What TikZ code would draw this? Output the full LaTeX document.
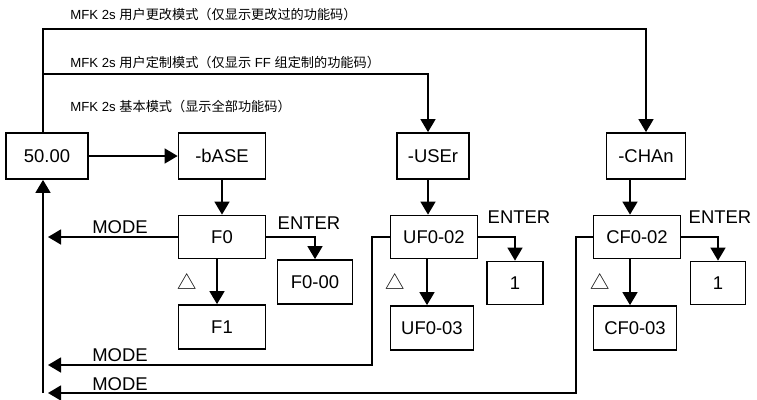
\documentclass[tikz,border=0pt]{standalone}
\usepackage{fontspec}
\setmainfont{Liberation Sans}
\newfontfamily\cjk{Noto Sans CJK SC}
\usetikzlibrary{arrows.meta}

\tikzset{
box/.style={draw=black, line width=1pt, inner sep=0pt, font=\fontsize{10.5}{12}\selectfont},
arr/.style={line width=1pt, -{Triangle[length=7.4pt,width=8.5pt]}},
lin/.style={line width=1pt},
lbl/.style={inner sep=0pt, font=\fontsize{10.5}{12}\selectfont},
tri/.style={inner sep=0pt, font=\fontsize{11}{12}\cjk},
note/.style={anchor=west, inner sep=0pt, font=\fontsize{7.5}{9}\selectfont},
}

\begin{document}
\begin{tikzpicture}[x=0.02cm,y=-0.02cm]
\useasboundingbox (0,0) rectangle (757,399);

\node[box, minimum width=1.64cm, minimum height=0.92cm] (v50) at (47,156) {50.00};
\node[box, minimum width=1.74cm, minimum height=0.92cm] (base) at (222,156) {-bASE};
\node[box, minimum width=1.74cm, minimum height=0.86cm] (f0) at (222,237) {F0};
\node[box, minimum width=1.50cm, minimum height=0.88cm] (f000) at (315,282) {F0-00};
\node[box, minimum width=1.74cm, minimum height=0.88cm] (f1) at (222,327) {F1};

\node[box, minimum width=1.44cm, minimum height=0.92cm] (user) at (433,156) {-USEr};
\node[box, minimum width=1.74cm, minimum height=0.86cm] (uf02) at (434,237) {UF0-02};
\node[box, minimum width=1.12cm, minimum height=0.86cm] (uent) at (515,283) {1};
\node[box, minimum width=1.66cm, minimum height=0.88cm] (uf03) at (432,328) {UF0-03};

\node[box, minimum width=1.58cm, minimum height=0.92cm] (chan) at (646,156) {-CHAn};
\node[box, minimum width=1.74cm, minimum height=0.86cm] (cf02) at (637,237) {CF0-02};
\node[box, minimum width=1.10cm, minimum height=0.86cm] (cent) at (718,283) {1};
\node[box, minimum width=1.66cm, minimum height=0.88cm] (cf03) at (635,328) {CF0-03};

\coordinate (rail) at (43,393);
\coordinate (topC) at (43,29);
\coordinate (topU) at (43,74);
\coordinate (modeF) at (48,237);
\coordinate (modeU) at (48,365);
\coordinate (modeC) at (48,393);

\node[note] (nC) at (70,14) {MFK 2s {\cjk 用户更改模式（仅显示更改过的功能码）}};
\node[note] (nU) at (70,62) {MFK 2s {\cjk 用户定制模式（仅显示} FF {\cjk 组定制的功能码）}};
\node[note] (nB) at (70,106) {MFK 2s {\cjk 基本模式（显示全部功能码）}};

\draw[arr] (v50) -- (base);
\draw[arr] (base) -- (f0);
\draw[arr] ([xshift=-0.1cm]f0.south) -- ([xshift=-0.1cm]f0.south |- f1.north);
\draw[arr] (f0.east) -| (f000.north);
\draw[arr] (f0.west) -- (modeF);

\draw[arr] (v50.north -| rail) -- (topC) -| (chan.north);
\draw[arr] (topU) -| ([xshift=-0.1cm]user.north);

\draw[arr] ([xshift=-0.1cm]user.south) -- ([xshift=-0.1cm]user.south |- uf02.north);
\draw[arr] ([xshift=-0.14cm]uf02.south) -- ([xshift=-0.14cm]uf02.south |- uf03.north);
\draw[arr] (uf02.east) -| (uent.north);
\draw[arr] (uf02.west) -- ++(-18,0) |- (modeU);

\draw[arr] ([xshift=-0.32cm]chan.south) -- ([xshift=-0.32cm]chan.south |- cf02.north);
\draw[arr] ([xshift=-0.14cm]cf02.south) -- ([xshift=-0.14cm]cf02.south |- cf03.north);
\draw[arr] (cf02.east) -| (cent.north);
\draw[arr] (cf02.west) -- ++(-17,0) |- (modeC);

\draw[arr] (rail) -- (rail |- v50.south);

\node[lbl] (mf) at (120,227) {MODE};
\node[lbl] (mu) at (120,355) {MODE};
\node[lbl] (mc) at (120,384) {MODE};
\node[lbl] (ef) at (309,223) {ENTER};
\node[lbl] (eu) at (519,217) {ENTER};
\node[lbl] (ec) at (720,217) {ENTER};
\node[tri] (tf) at (187,282) {△};
\node[tri] (tu) at (395,282) {△};
\node[tri] (tc) at (600,282) {△};
\end{tikzpicture}
\end{document}
